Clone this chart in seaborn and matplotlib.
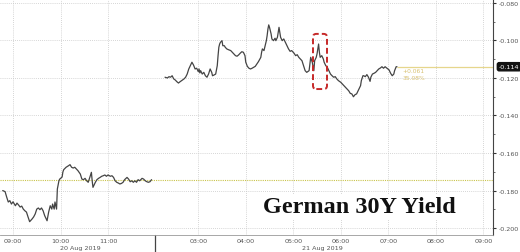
import numpy as np
import pandas as pd
import seaborn as sns
import matplotlib
matplotlib.use("Agg")
import matplotlib.pyplot as plt
from matplotlib.patches import FancyBboxPatch
from matplotlib.lines import Line2D
import matplotlib.transforms as mtransforms

# ---------------- data ----------------
day1_times = ["08:47", "08:50", "08:52", "08:54", "08:56", "08:58", "09:00", "09:03", "09:05", "09:07",
              "09:09", "09:11", "09:13", "09:15", "09:17", "09:19", "09:21", "09:24", "09:26", "09:28",
              "09:30", "09:32", "09:34", "09:36", "09:38", "09:40", "09:43", "09:45", "09:47", "09:49",
              "09:50", "09:52", "09:53", "09:55", "09:56", "09:58", "09:59", "10:02", "10:03", "10:04",
              "10:07", "10:10", "10:12", "10:14", "10:16", "10:18", "10:20", "10:22", "10:25", "10:27",
              "10:29", "10:31", "10:33", "10:35", "10:37", "10:39", "10:40", "10:41", "10:44", "10:46",
              "10:48", "10:50", "10:52", "10:54", "10:56", "10:58", "11:00", "11:03", "11:05", "11:07",
              "11:09", "11:11", "11:13", "11:15", "11:17", "11:19", "11:21", "11:24", "11:26", "11:28",
              "11:30", "11:32", "11:34", "11:36", "11:38", "11:40", "11:43", "11:45", "11:47", "11:49",
              "11:51", "11:53", "11:55"]
day1_yield = [-0.1800, -0.1806, -0.1835, -0.1861, -0.1854, -0.1872, -0.1860, -0.1881, -0.1867, -0.1877,
              -0.1888, -0.1883, -0.1899, -0.1908, -0.1915, -0.1941, -0.1966, -0.1952, -0.1941, -0.1925,
              -0.1899, -0.1893, -0.1902, -0.1893, -0.1908, -0.1934, -0.1961, -0.1915, -0.1881, -0.1899,
              -0.1872, -0.1899, -0.1861, -0.1899, -0.1792, -0.1748, -0.1739, -0.1728, -0.1701, -0.1689,
              -0.1676, -0.1668, -0.1662, -0.1676, -0.1680, -0.1676, -0.1685, -0.1694, -0.1712, -0.1739,
              -0.1742, -0.1735, -0.1748, -0.1756, -0.1730, -0.1703, -0.1748, -0.1783, -0.1756, -0.1742,
              -0.1735, -0.1730, -0.1724, -0.1721, -0.1717, -0.1724, -0.1717, -0.1724, -0.1721, -0.1730,
              -0.1748, -0.1756, -0.1760, -0.1765, -0.1762, -0.1756, -0.1742, -0.1730, -0.1739, -0.1753,
              -0.1748, -0.1756, -0.1748, -0.1756, -0.1742, -0.1748, -0.1735, -0.1739, -0.1748, -0.1753,
              -0.1756, -0.1753, -0.1742]

day2_times = ["02:18", "02:21", "02:23", "02:25", "02:27", "02:29", "02:31", "02:33", "02:35", "02:37",
              "02:39", "02:42", "02:44", "02:46", "02:48", "02:50", "02:52", "02:54", "02:56", "02:58",
              "03:00", "03:01", "03:02", "03:03", "03:05", "03:07", "03:09", "03:11", "03:13", "03:15",
              "03:17", "03:18", "03:20", "03:22", "03:24", "03:25", "03:26", "03:27", "03:28", "03:30",
              "03:31", "03:33", "03:34", "03:36", "03:38", "03:41", "03:43", "03:45", "03:47", "03:49",
              "03:51", "03:53", "03:55", "03:57", "03:59", "04:00", "04:02", "04:04", "04:06", "04:08",
              "04:10", "04:12", "04:14", "04:16", "04:19", "04:20", "04:21", "04:23", "04:24", "04:26",
              "04:27", "04:28", "04:29", "04:30", "04:32", "04:33", "04:35", "04:37", "04:38", "04:40",
              "04:42", "04:43", "04:44", "04:46", "04:48", "04:50", "04:52", "04:54", "04:56", "04:58",
              "05:01", "05:03", "05:05", "05:07", "05:09", "05:11", "05:13", "05:15", "05:17", "05:20",
              "05:21", "05:22", "05:24", "05:26", "05:27", "05:29", "05:30", "05:32", "05:33", "05:34",
              "05:36", "05:38", "05:39", "05:41", "05:43", "05:45", "05:47", "05:49", "05:51", "05:53",
              "05:55", "05:57", "06:00", "06:02", "06:04", "06:06", "06:08", "06:10", "06:12", "06:14",
              "06:16", "06:18", "06:20", "06:21", "06:23", "06:25", "06:26", "06:28", "06:29", "06:31",
              "06:33", "06:35", "06:37", "06:38", "06:40", "06:42", "06:44", "06:46", "06:48", "06:50",
              "06:52", "06:54", "06:56", "06:58", "07:01", "07:03", "07:05", "07:07", "07:08", "07:10",
              "07:11"]
day2_yield = [-0.1196, -0.1200, -0.1193, -0.1196, -0.1188, -0.1205, -0.1211, -0.1220, -0.1227, -0.1220,
              -0.1214, -0.1205, -0.1196, -0.1179, -0.1152, -0.1134, -0.1116, -0.1131, -0.1152, -0.1148,
              -0.1166, -0.1152, -0.1173, -0.1161, -0.1179, -0.1170, -0.1188, -0.1196, -0.1179, -0.1152,
              -0.1170, -0.1188, -0.1184, -0.1179, -0.1134, -0.1081, -0.1036, -0.1019, -0.1010, -0.1001,
              -0.1028, -0.1028, -0.1036, -0.1045, -0.1049, -0.1054, -0.1063, -0.1072, -0.1081, -0.1084,
              -0.1077, -0.1068, -0.1060, -0.1063, -0.1081, -0.1116, -0.1138, -0.1148, -0.1152, -0.1148,
              -0.1143, -0.1138, -0.1125, -0.1113, -0.1090, -0.1063, -0.1045, -0.1054, -0.1036, -0.1001,
              -0.0974, -0.0939, -0.0917, -0.0930, -0.0965, -0.0992, -0.1001, -0.0988, -0.1001, -0.0983,
              -0.0930, -0.0956, -0.0983, -0.1001, -0.0992, -0.1010, -0.1028, -0.1045, -0.1058, -0.1054,
              -0.1068, -0.1081, -0.1076, -0.1090, -0.1099, -0.1108, -0.1134, -0.1161, -0.1170, -0.1161,
              -0.1125, -0.1090, -0.1116, -0.1161, -0.1108, -0.1090, -0.1072, -0.1019, -0.1063, -0.1090,
              -0.1081, -0.1099, -0.1116, -0.1134, -0.1143, -0.1161, -0.1179, -0.1188, -0.1196, -0.1193,
              -0.1205, -0.1214, -0.1223, -0.1232, -0.1241, -0.1250, -0.1259, -0.1268, -0.1282, -0.1285,
              -0.1300, -0.1289, -0.1285, -0.1276, -0.1259, -0.1241, -0.1214, -0.1188, -0.1188, -0.1193,
              -0.1182, -0.1196, -0.1218, -0.1196, -0.1179, -0.1175, -0.1170, -0.1161, -0.1152, -0.1147,
              -0.1140, -0.1148, -0.1140, -0.1147, -0.1157, -0.1175, -0.1188, -0.1179, -0.1161, -0.1140,
              -0.1140]

day1_ticks = ["09:00", "10:00", "11:00"]
day2_ticks = ["03:00", "04:00", "05:00", "06:00", "07:00", "08:00", "09:00"]
date_labels = ["20 Aug 2019", "21 Aug 2019"]
y_ticks = [-0.080, -0.100, -0.120, -0.140, -0.160, -0.180, -0.200]
last_value = -0.114
prev_close = -0.1744
change_text = "+0.061"
pct_text = "35.08%"
title_text = "German 30Y Yield"

# ---------------- layout helpers ----------------
DAY2_OFFSET = 9.9  # compressed gap between sessions (hours)


def to_pos(t, offset=0.0):
    h, m = t.split(":")
    return int(h) + int(m) / 60.0 + offset


df1 = pd.DataFrame({"pos": [to_pos(t) for t in day1_times], "yield": day1_yield})
df2 = pd.DataFrame({"pos": [to_pos(t, DAY2_OFFSET) for t in day2_times], "yield": day2_yield})

sns.set_style("white")
plt.rcParams["font.family"] = ["DejaVu Sans"]

W, H = 520, 253
fig = plt.figure(figsize=(W / 100, H / 100), dpi=100)
ax = fig.add_axes([0, 17 / H, 493 / W, 236 / H])

XMIN, XMAX = 8.726, 8.726 + 493 / 47.5
ax.set_xlim(XMIN, XMAX)
ax.set_ylim(-0.2037, -0.0779)

line_color = "#444444"
sns.lineplot(data=df1, x="pos", y="yield", ax=ax, color=line_color, lw=0.9)
sns.lineplot(data=df2, x="pos", y="yield", ax=ax, color=line_color, lw=0.9)

# previous close dotted line
ax.axhline(prev_close, color="#c9c34a", lw=0.8, ls=(0, (1, 1)), zorder=1)
# last value line
ax.hlines(last_value, df2["pos"].iloc[-1], XMAX, color="#e6d68c", lw=0.9, zorder=1)

# ticks and grid
xt = [to_pos(t) for t in day1_ticks] + [to_pos(t, DAY2_OFFSET) for t in day2_ticks]
ax.set_xticks(xt)
ax.set_xticklabels(day1_ticks + day2_ticks)
ax.set_xticks([p + 0.5 for p in xt[:3]] + [p - 0.5 for p in xt[3:]], minor=True)
ax.set_yticks(y_ticks)
ax.set_yticklabels([f"{v:.3f}" for v in y_ticks])
ax.set_yticks([v - 0.010 for v in y_ticks[:-1]], minor=True)
ax.yaxis.tick_right()
ax.tick_params(axis="y", which="major", length=2.5, width=0.8, pad=1.5, labelsize=4.6,
               colors="#333333", labelcolor="#555555", direction="out")
ax.tick_params(axis="y", which="minor", length=1.5, width=0.6, colors="#555555", direction="out")
ax.tick_params(axis="x", which="major", length=0, pad=2.5, labelsize=4.6, labelcolor="#555555")
ax.tick_params(axis="x", which="minor", length=1.5, width=0.6, colors="#888888", direction="in")
ax.grid(True, which="major", color="#c8c8c8", lw=0.6, ls=(0, (1, 1.5)))
ax.set_xlabel("")
ax.set_ylabel("")

for side in ["left", "top"]:
    ax.spines[side].set_visible(False)
ax.spines["right"].set_color("#444444")
ax.spines["right"].set_linewidth(0.8)
ax.spines["bottom"].set_color("#999999")
ax.spines["bottom"].set_linewidth(0.6)

# session separator below axis
trans = mtransforms.blended_transform_factory(ax.transData, ax.transAxes)
sep_x = 8.726 + 154.5 / 47.5
ax.add_line(Line2D([sep_x, sep_x], [0, -0.08], transform=trans, color="#444444", lw=0.9,
                   clip_on=False))

# date labels
ax.text(8.726 + 80 / 47.5, -0.042, date_labels[0], transform=trans, ha="center", va="top",
        fontsize=4.6, color="#555555")
ax.text(8.726 + 322 / 47.5, -0.042, date_labels[1], transform=trans, ha="center", va="top",
        fontsize=4.6, color="#555555")

# last value badge
ty = mtransforms.blended_transform_factory(ax.transAxes, ax.transData)
ax.text(1.012, last_value, f"{last_value:.3f}", transform=ty, ha="left", va="center",
        fontsize=4.6, color="white", clip_on=False,
        bbox=dict(boxstyle="round,pad=0.25,rounding_size=0.3", fc="#111111", ec="#111111"))

# change texts
ax.text(df2["pos"].iloc[-1] + 0.12, last_value - 0.0018, change_text, ha="left", va="center",
        fontsize=4.3, color="#d8c070")
ax.text(df2["pos"].iloc[-1] + 0.12, last_value - 0.0060, pct_text, ha="left", va="center",
        fontsize=4.3, color="#d8c070")

# red dashed highlight
x0 = 8.726 + 313 / 47.5
x1 = 8.726 + 327 / 47.5
yb = -0.1259
ytop = -0.0965
box = FancyBboxPatch((x0, yb), x1 - x0, ytop - yb,
                     boxstyle="round,pad=0,rounding_size=0.07",
                     mutation_aspect=47.5 / 1875,
                     fill=False, ec="#c62828", lw=1.4, ls=(0, (3, 1.6)), zorder=5)
ax.add_patch(box)

# title text
ax.text(263 / 493, (236 - 213) / 236, title_text, transform=ax.transAxes, ha="left",
        va="baseline", fontsize=17.5, fontweight="bold", family=["Liberation Serif"],
        color="#111111", zorder=6,
        bbox=dict(boxstyle="square,pad=0.1", fc="white", ec="none"))

fig.savefig("out.png", dpi=100)
